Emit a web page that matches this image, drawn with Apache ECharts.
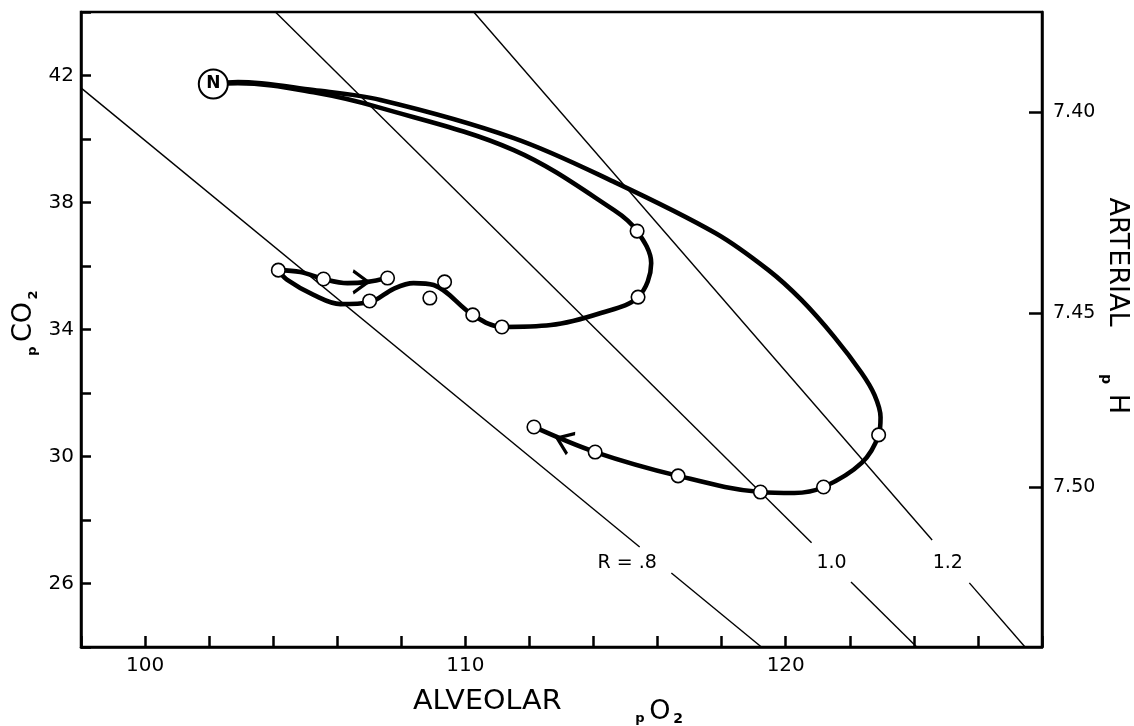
<!DOCTYPE html>
<html><head><meta charset="utf-8">
<script src="https://cdn.jsdelivr.net/npm/echarts@6/dist/echarts.min.js"></script>
<style>html,body{margin:0;padding:0;background:#fff}#c{width:1134px;height:726px}</style>
</head><body><div id="c"></div>
<script>
// ---- data ----
const xTickLabels = [100, 110, 120];
const yTickLabels = [26, 30, 34, 38, 42];
const phTickPco2 = [40.85, 34.52, 29.04];
const phTickLabels = ['7.40', '7.45', '7.50'];

const nPoint = [102.13, 41.73];
const outerPath = [[102.13,41.73],[102.9,41.79],[105.26,41.54],[107.35,41.23],[111.51,40.03],[114.64,38.65],[117.80,37.04],[119.46,35.87],[120.49,34.93],[121.52,33.76],[122.37,32.63],[122.77,31.94],[122.96,31.24],[122.90,30.68],[122.37,29.80],[121.18,29.04],[120.27,28.85],[119.21,28.88],[116.64,29.39],[114.05,30.14],[112.14,30.93]];
const innerPathA = [[102.13,41.73],[102.9,41.76],[105.26,41.47],[107.35,40.98],[111.51,39.65],[114.64,37.76],[115.36,37.10],[115.80,36.09],[115.39,35.02],[114.23,34.52],[112.67,34.14],[111.14,34.08],[110.23,34.46],[109.01,35.40],[108.38,35.46],[107.76,35.28],[107.01,34.86],[106.10,34.80],[105.26,35.09],[104.44,35.56],[104.16,35.87]];
const innerPathB = [[104.16,35.87],[104.85,35.81],[105.57,35.59],[106.32,35.46],[106.95,35.50],[107.57,35.62]];
const outerPoints = [[122.90,30.68],[121.18,29.04],[119.21,28.88],[116.64,29.39],[114.05,30.14],[112.14,30.93]];
const innerPoints = [[115.36,37.10],[115.39,35.02],[111.14,34.08],[110.23,34.46],[108.89,34.99],[109.35,35.50],[107.01,34.90],[104.16,35.87],[105.57,35.59],[107.57,35.62]];
const arrowPoints = [[106.73,35.50],[113.08,30.49]];
const arrowAngles = [0, 158];

const rLine08 = [[98.0, 41.61], [119.24, 24.0]];
const rLine10 = [[104.07, 44.0], [124.09, 24.0]];
const rLine12 = [[110.26, 44.0], [127.47, 24.0]];
const rLabelGaps = [[27.15, 26.33], [27.28, 26.05], [27.37, 26.02]];
const rLabels = ['R = .8', '1.0', '1.2'];
const rLabelPos = [[115.05, 26.65], [121.43, 26.65], [125.06, 26.65]];

// ---- build ----
const FONT = 'DejaVu Sans';
function xAt(line, y) {
  const [a, b] = line;
  const t = (y - a[1]) / (b[1] - a[1]);
  return a[0] + t * (b[0] - a[0]);
}
const series = [];
[rLine08, rLine10, rLine12].forEach((ln, i) => {
  const g = rLabelGaps[i];
  const segs = [
    [ln[0], [xAt(ln, g[0]), g[0]]],
    [[xAt(ln, g[1]), g[1]], ln[1]]
  ];
  segs.forEach(s => series.push({
    type: 'line', data: s, symbol: 'none', silent: true, z: 2,
    lineStyle: { color: '#000', width: 1.4 }
  }));
});
[outerPath, innerPathA, innerPathB].forEach(p => series.push({
  type: 'line', data: p, symbol: 'none', smooth: 0.35, z: 3,
  lineStyle: { color: '#000', width: 4.6, cap: 'round', join: 'round' }
}));
series.push({
  type: 'scatter', data: outerPoints.concat(innerPoints), symbol: 'circle', symbolSize: 13.5, z: 5,
  itemStyle: { color: '#fff', borderColor: '#000', borderWidth: 1.6, opacity: 1 }
});
series.push({
  type: 'scatter', data: [nPoint], symbol: 'circle', symbolSize: 29, z: 6,
  itemStyle: { color: '#fff', borderColor: '#000', borderWidth: 2, opacity: 1 },
  label: { show: true, position: 'inside', formatter: 'N', color: '#000', fontFamily: FONT, fontSize: 17, fontWeight: 'bold' }
});
series.push({
  type: 'scatter', z: 6,
  data: arrowPoints.map((p, i) => ({ value: p, symbolRotate: arrowAngles[i] })),
  symbol: 'path://M0,0L12,8L0,16', symbolSize: [15, 22],
  itemStyle: { color: 'none', borderColor: '#000', borderWidth: 3, opacity: 1 }
});
series.push({
  type: 'scatter', z: 6, symbolSize: 0,
  itemStyle: { opacity: 1 },
  data: rLabelPos.map((p, i) => ({ value: p, name: rLabels[i] })),
  label: { show: true, position: 'inside', formatter: p => p.name, color: '#000', fontFamily: FONT, fontSize: 19 }
});

const chart = echarts.init(document.getElementById('c'), null, { renderer: 'canvas' });
chart.setOption({
  animation: false,
  backgroundColor: '#fff',
  grid: { left: 81, right: 92, top: 12, bottom: 79, show: true, borderColor: '#000', borderWidth: 2.5 },
  xAxis: {
    type: 'value', min: 98, max: 128, interval: 2,
    axisLine: { show: true, lineStyle: { color: '#000', width: 2.5 } },
    axisTick: { show: true, inside: true, length: 11, lineStyle: { color: '#000', width: 2.5 } },
    axisLabel: { margin: 9, color: '#000', fontFamily: FONT, fontSize: 20,
      formatter: v => xTickLabels.includes(v) ? String(v) : '' },
    splitLine: { show: false }
  },
  yAxis: [{
    type: 'value', min: 24, max: 44, interval: 2,
    axisLine: { show: true, lineStyle: { color: '#000', width: 2.5 } },
    axisTick: { show: true, inside: true, length: 10, lineStyle: { color: '#000', width: 2.5 } },
    axisLabel: { margin: 7, color: '#000', fontFamily: FONT, fontSize: 20,
      formatter: v => yTickLabels.includes(v) ? String(v) : '' },
    splitLine: { show: false }
  }, {
    type: 'value', min: 24, max: 44, position: 'right',
    axisLine: { show: true, lineStyle: { color: '#000', width: 2.5 } },
    axisTick: { show: true, inside: true, length: 13, customValues: phTickPco2, lineStyle: { color: '#000', width: 2.5 } },
    axisLabel: { margin: 11, color: '#000', fontFamily: FONT, fontSize: 19, customValues: phTickPco2,
      formatter: v => { const i = phTickPco2.findIndex(p => Math.abs(p - v) < 1e-6); return i >= 0 ? phTickLabels[i] : ''; } },
    splitLine: { show: false }
  }],
  graphic: [
    { type: 'text', x: 413, y: 702, scaleX: 1.1, style: { text: 'ALVEOLAR', font: '26px "DejaVu Sans"', fill: '#000', align: 'left', verticalAlign: 'middle' } },
    { type: 'text', x: 640, y: 719, style: { text: 'p', font: 'bold 13px "DejaVu Sans"', fill: '#000', align: 'center', verticalAlign: 'middle' } },
    { type: 'text', x: 660, y: 712, style: { text: 'O', font: '27px "DejaVu Sans"', fill: '#000', align: 'center', verticalAlign: 'middle' } },
    { type: 'text', x: 678, y: 719, style: { text: '2', font: 'bold 14px "DejaVu Sans"', fill: '#000', align: 'center', verticalAlign: 'middle' } },
    { type: 'text', x: 24, y: 322, rotation: Math.PI / 2, style: { text: 'CO', font: '27px "DejaVu Sans"', fill: '#000', align: 'center', verticalAlign: 'middle' } },
    { type: 'text', x: 34, y: 295, rotation: Math.PI / 2, style: { text: '2', font: 'bold 13px "DejaVu Sans"', fill: '#000', align: 'center', verticalAlign: 'middle' } },
    { type: 'text', x: 33, y: 351, rotation: Math.PI / 2, style: { text: 'p', font: 'bold 13px "DejaVu Sans"', fill: '#000', align: 'center', verticalAlign: 'middle' } },
    { type: 'text', x: 1117, y: 262, rotation: -Math.PI / 2, style: { text: 'ARTERIAL', font: '27px "DejaVu Sans"', fill: '#000', align: 'center', verticalAlign: 'middle' } },
    { type: 'text', x: 1106, y: 379, rotation: -Math.PI / 2, style: { text: 'p', font: 'bold 14px "DejaVu Sans"', fill: '#000', align: 'center', verticalAlign: 'middle' } },
    { type: 'text', x: 1117, y: 404, rotation: -Math.PI / 2, style: { text: 'H', font: '27px "DejaVu Sans"', fill: '#000', align: 'center', verticalAlign: 'middle' } }
  ],
  series: series
});
</script>
</body></html>
